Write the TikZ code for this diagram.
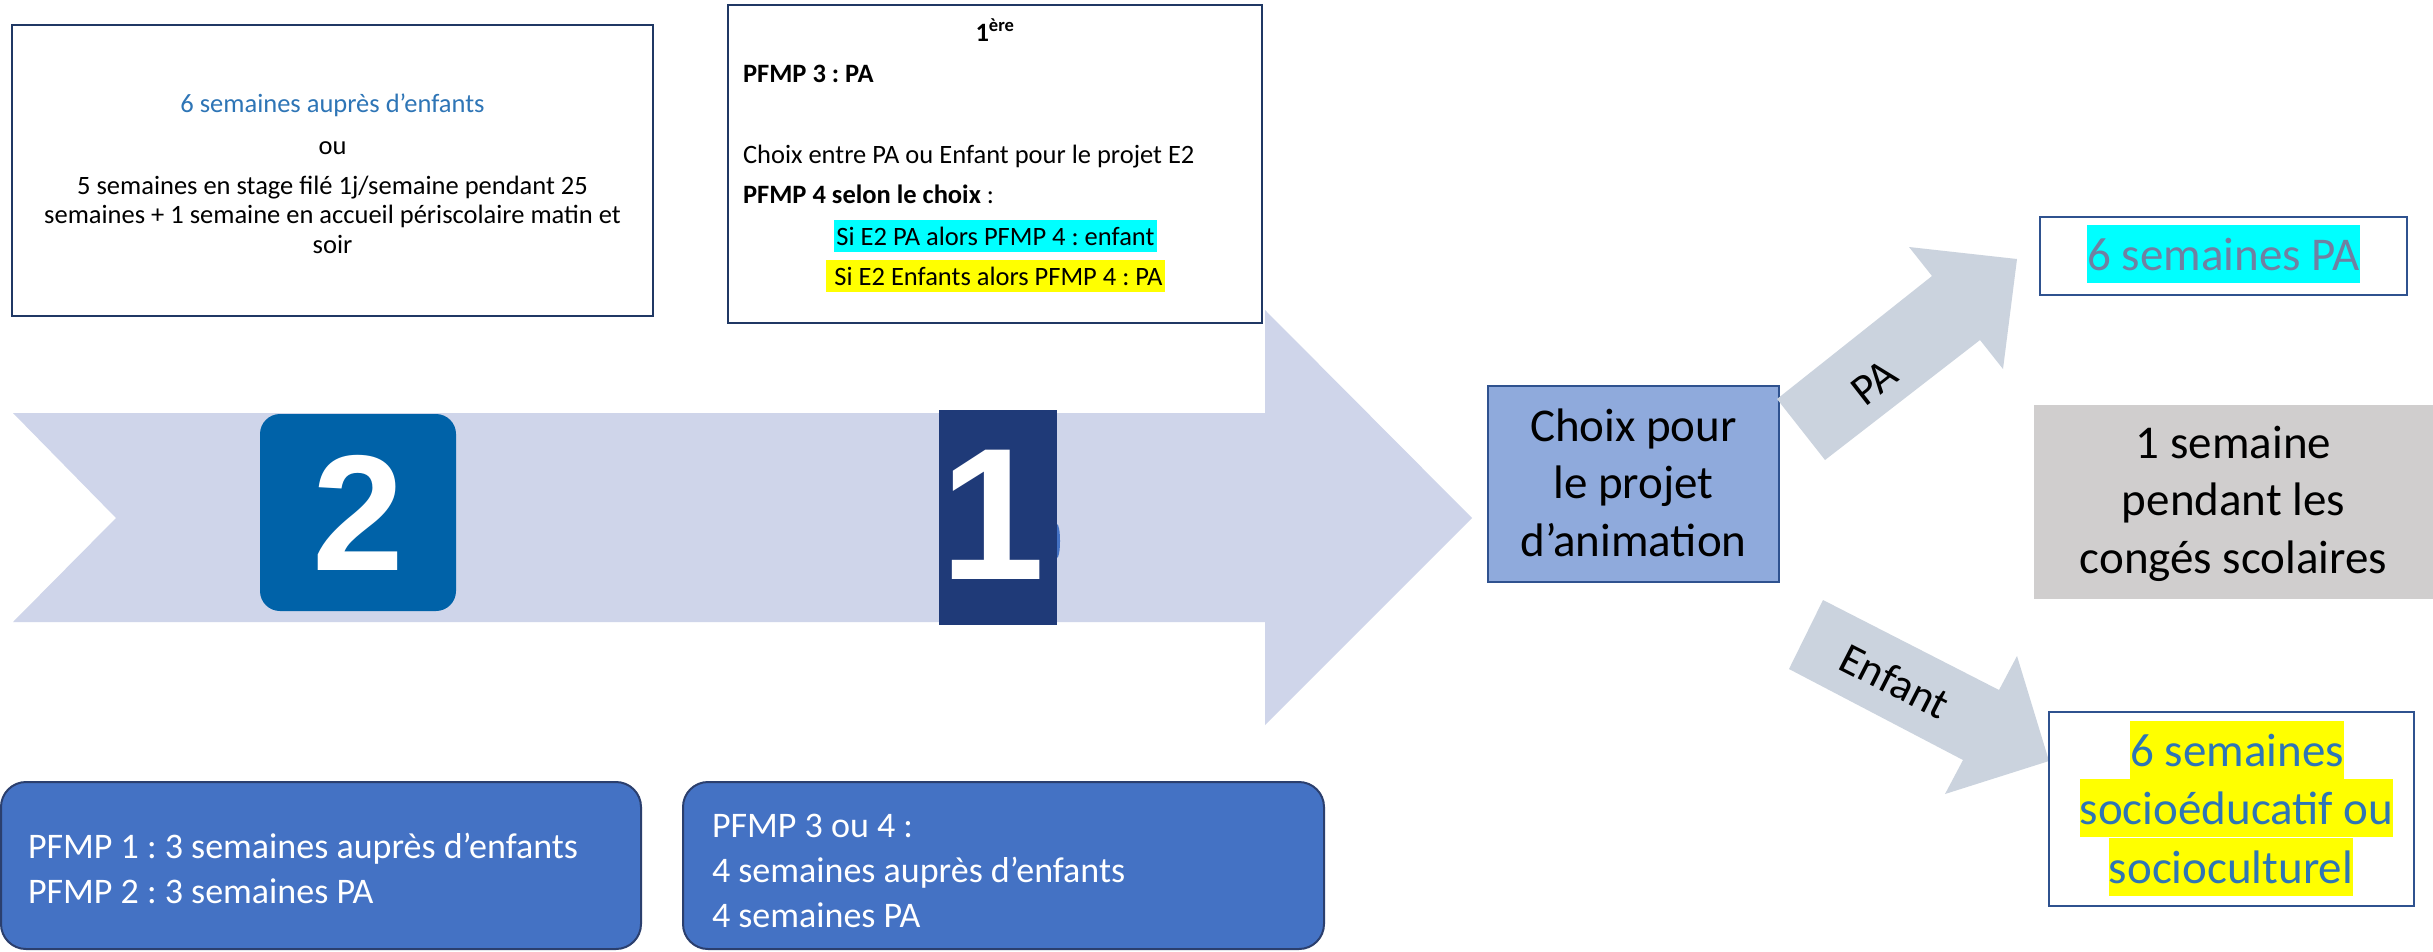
\documentclass[tikz,border=0pt]{standalone}
\usepackage{fontspec}
\setmainfont{Carlito}
\newfontfamily\digitfont{Liberation Sans}
\frenchspacing
\definecolor{bigfill}{HTML}{CFD5EA}
\definecolor{smallfill}{HTML}{CBD3DE}
\definecolor{navy}{HTML}{203864}
\definecolor{numA}{HTML}{0062A8}
\definecolor{numB}{HTML}{1F3A78}
\definecolor{choixfill}{HTML}{8FAADC}
\definecolor{choixline}{HTML}{2F528F}
\definecolor{grayfill}{HTML}{D0CECE}
\definecolor{bluetext}{HTML}{2E75B6}
\definecolor{slatetext}{HTML}{7080A2}
\definecolor{pfmpfill}{HTML}{4472C4}
\definecolor{pfmpline}{HTML}{2B3F6E}
\definecolor{hlcyan}{HTML}{00FFFF}
\definecolor{hlyellow}{HTML}{FFFF00}
\begin{document}
\frenchspacing
\begin{tikzpicture}[x=1pt,y=-1pt,
  every node/.style={inner sep=0pt, outer sep=0pt},
  fsmall/.style={font=\fontsize{26.5}{30}\selectfont},
  fbig/.style={font=\fontsize{47}{57}\selectfont},
  fpfmp/.style={font=\fontsize{36}{45}\selectfont, text=white},
  flabel/.style={font=\fontsize{44}{50}\selectfont},
  hlsmall/.style={fsmall, text height=25.2pt, text depth=7.3pt},
  hlbig/.style={fbig, text height=45pt, text depth=13pt},
  topbox/.style={draw=navy, line width=2pt, fill=white},
  thinbox/.style={draw=choixline, line width=1.5pt, fill=white},
  pfmpbox/.style={draw=pfmpline, line width=2pt, fill=pfmpfill, rounded corners=25pt},
  blockarrow/.style={fill=smallfill, draw=none}
]
\useasboundingbox (0,0) rectangle (2433,951);
\fill[white] (0,0) rectangle (2433,951);

% main chevron arrow
\fill[bigfill] (13,413) -- (1265,413) -- (1265,310) -- (1472,518) -- (1265,725)
  -- (1265,622) -- (13,622) -- (116,518) -- cycle;

% number boxes
\node[fill=numA, rounded corners=20pt, minimum width=196pt, minimum height=197pt] (n2) at (358,512.5) {};
\node[font=\digitfont\bfseries\fontsize{165}{165}\selectfont, text=white] (d2) at (358,513) {2};
\fill[pfmpfill] (1057,541) ellipse [x radius=3, y radius=17];
\node[fill=numB, minimum width=118pt, minimum height=215pt] (n1) at (998,517.5) {};
\node[font=\digitfont\bfseries\fontsize{188}{188}\selectfont, text=white] (d1) at (993,515) {1};

% top-left box
\node[topbox, minimum width=641pt, minimum height=291pt] (box1) at (332.5,170.5) {};
\node[fsmall, text=bluetext, anchor=base] (b1a) at (332.5,112) {6 semaines auprès d’enfants};
\node[fsmall, anchor=base] (b1b) at (332.5,154) {ou};
\node[fsmall, anchor=base] (b1c) at (332.5,194) {5 semaines en stage filé 1j/semaine pendant 25};
\node[fsmall, anchor=base] (b1d) at (332.5,223) {semaines + 1 semaine en accueil périscolaire matin et};
\node[fsmall, anchor=base] (b1e) at (332.5,253) {soir};

% top-middle box
\node[topbox, minimum width=534pt, minimum height=318pt] (box2) at (995,164) {};
\node[fsmall, anchor=base] (b2a) at (995,41) {\bfseries 1\textsuperscript{ère}};
\node[fsmall, anchor=base west] (b2b) at (743,82) {\bfseries PFMP 3 : PA};
\node[fsmall, anchor=base west] (b2c) at (743,163) {Choix entre PA ou Enfant pour le projet E2};
\node[fsmall, anchor=base west] (b2d) at (743,203) {{\bfseries PFMP 4 selon le choix} :};
\node[hlsmall, fill=hlcyan, inner xsep=2pt, anchor=base] (b2e) at (995.5,245) {Si E2 PA alors PFMP 4 : enfant};
\node[hlsmall, fill=hlyellow, inner xsep=2pt, anchor=base] (b2f) at (995.5,285) {~Si E2 Enfants alors PFMP 4 : PA};

% choice box
\node[draw=choixline, line width=1.5pt, fill=choixfill, minimum width=291pt, minimum height=196pt] (choix) at (1633.5,484) {};
\node[fbig, anchor=base] (c1) at (1633.5,441) {Choix pour};
\node[fbig, anchor=base] (c2) at (1633.5,498.5) {le projet};
\node[fbig, anchor=base] (c3) at (1633.5,556) {d’animation};

% branch arrows
\fill[blockarrow] (1777,399) -- (1932,276) -- (1909,247) -- (2017,259) -- (2003,369)
  -- (1980,340) -- (1825,460) -- cycle;
\node[flabel, rotate=38] (lpa) at (1874,383) {PA};
\fill[blockarrow] (1823,600) -- (1999,690) -- (2017,656) -- (2049,761) -- (1945,794)
  -- (1963,760) -- (1789,669) -- cycle;
\node[flabel, rotate=-27] (lenf) at (1895,681) {Enfant};

% right boxes
\node[thinbox, minimum width=367pt, minimum height=78pt] (rpa) at (2223.5,256) {};
\node[hlbig, fill=hlcyan, text=slatetext, anchor=base] (rpat) at (2223.5,270) {6 semaines PA};

\node[fill=grayfill, minimum width=399pt, minimum height=194pt] (rgray) at (2233.5,502) {};
\node[fbig, anchor=base] (g1) at (2233.5,458) {1 semaine};
\node[fbig, anchor=base] (g2) at (2233.5,515.5) {pendant les};
\node[fbig, anchor=base] (g3) at (2233.5,573) {congés scolaires};

\node[thinbox, minimum width=365pt, minimum height=194pt] (rsoc) at (2231.5,809) {};
\node[hlbig, fill=hlyellow, text=bluetext, anchor=base] (s1) at (2237,766) {6 semaines~};
\node[hlbig, fill=hlyellow, text=bluetext, anchor=base] (s2) at (2236.5,824) {socioéducatif ou~};
\node[hlbig, fill=hlyellow, text=bluetext, anchor=base] (s3) at (2231,883) {socioculturel};

% bottom boxes
\node[pfmpbox, minimum width=640pt, minimum height=167pt] (pA) at (321,865.5) {};
\node[fpfmp, anchor=base west] (pA1) at (28,858) {PFMP 1 : 3 semaines auprès d’enfants};
\node[fpfmp, anchor=base west] (pA2) at (28,903) {PFMP 2 : 3 semaines PA};

\node[pfmpbox, minimum width=641pt, minimum height=167pt] (pB) at (1003.5,865.5) {};
\node[fpfmp, anchor=base west] (pB1) at (712,837) {PFMP 3 ou 4 :};
\node[fpfmp, anchor=base west] (pB2) at (712,882) {4 semaines auprès d’enfants};
\node[fpfmp, anchor=base west] (pB3) at (712,927) {4 semaines PA};
\end{tikzpicture}
\end{document}
